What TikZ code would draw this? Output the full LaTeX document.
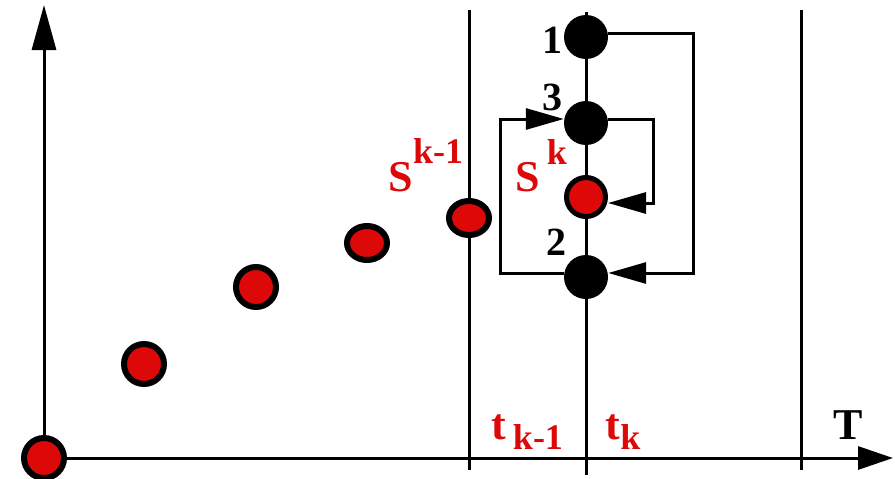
\documentclass[tikz,border=0pt]{standalone}
\usepackage{fontspec}
\setmainfont{Liberation Serif}
\usetikzlibrary{arrows.meta,shapes.geometric}
\definecolor{dotred}{HTML}{DD0808}
\newcommand\bigsz{\fontsize{44}{44}\selectfont}
\newcommand\smallsz{\fontsize{36}{36}\selectfont}
\tikzset{
        % axes and time lines
        axis/.style={line width=3pt},
        % states already computed
        state_red/.style={ellipse, draw=black, fill=dotred, line width=6pt, minimum width=40pt, minimum height=40pt, inner sep=0pt},
        % candidate states at t_k
        state_black/.style={circle, fill=black, minimum size=44pt, inner sep=0pt},
        % labels
        lbl/.style={inner sep=0pt, font=\bfseries\bigsz},
        % jumps between candidates
        jump/.style={line width=3pt, -{Triangle[length=38pt,width=21pt]}}
}

\begin{document}
\begin{tikzpicture}[x=1pt, y=-1pt]
    \useasboundingbox (0,0) rectangle (895,479);
    % time lines
    \draw[axis] (469,10) -- (469,470);
    \draw[axis] (586,12) -- (586,475);
    \draw[axis] (801,10) -- (801,470);
    % previous states
    \node[state_red] (s0) at (44,458) {};
    \node[state_red] (s1) at (144,364) {};
    \node[state_red] (s2) at (256,287) {};
    \node[state_red, minimum height=34pt] (s3) at (367,243) {};
    \node[state_red, minimum height=34pt] (s4) at (469,218) {};
    % axes
    \draw[axis, -{Triangle[length=45pt,width=24pt]}] (s0) -- (s0 |- 0,5);
    \draw[axis, -{Triangle[length=35pt,width=23pt]}] (s0) -- (893,458);
    % candidates at t_k
    \node[state_black] (n1) at (586,37) {};
    \node[state_black] (n3) at (586,123) {};
    \node[state_red, circle, line width=5pt, minimum size=39pt] (sk) at (586,197) {};
    \node[state_black] (n2) at (586,277) {};
    % jumps
    \draw[jump] ([yshift=4pt]n1.east) -- (693,33) |- ([yshift=4pt]n2.east);
    \draw[jump] ([yshift=4pt]n3.east) -- (653,119) |- ([yshift=-6pt]sk.east);
    \draw[jump] ([yshift=4pt]n2.west) -- (500,273) |- ([yshift=4pt]n3.west);
    % labels
    \node[lbl, font=\bfseries\fontsize{40}{40}\selectfont] (l1) at (552,40) {1};
    \node[lbl, font=\bfseries\fontsize{40}{40}\selectfont] (l3) at (552,97) {3};
    \node[lbl, font=\bfseries\fontsize{40}{40}\selectfont] (l2) at (556,242) {2};
    \node[lbl, text=dotred] (lsk) at (541,166) {S\,\raisebox{27pt}{\smallsz k}};
    \node[lbl, text=dotred] (lsk1) at (426,165) {S\raisebox{28pt}{\smallsz k-1}};
    \node[lbl, text=dotred] (ltk1) at (527,432) {t\,\raisebox{-10pt}{\smallsz k-1}};
    \node[lbl, text=dotred] (ltk) at (623,432) {t\raisebox{-10pt}{\smallsz k}};
    \node[lbl] (lT) at (848,425) {T};
\end{tikzpicture}
\end{document}
